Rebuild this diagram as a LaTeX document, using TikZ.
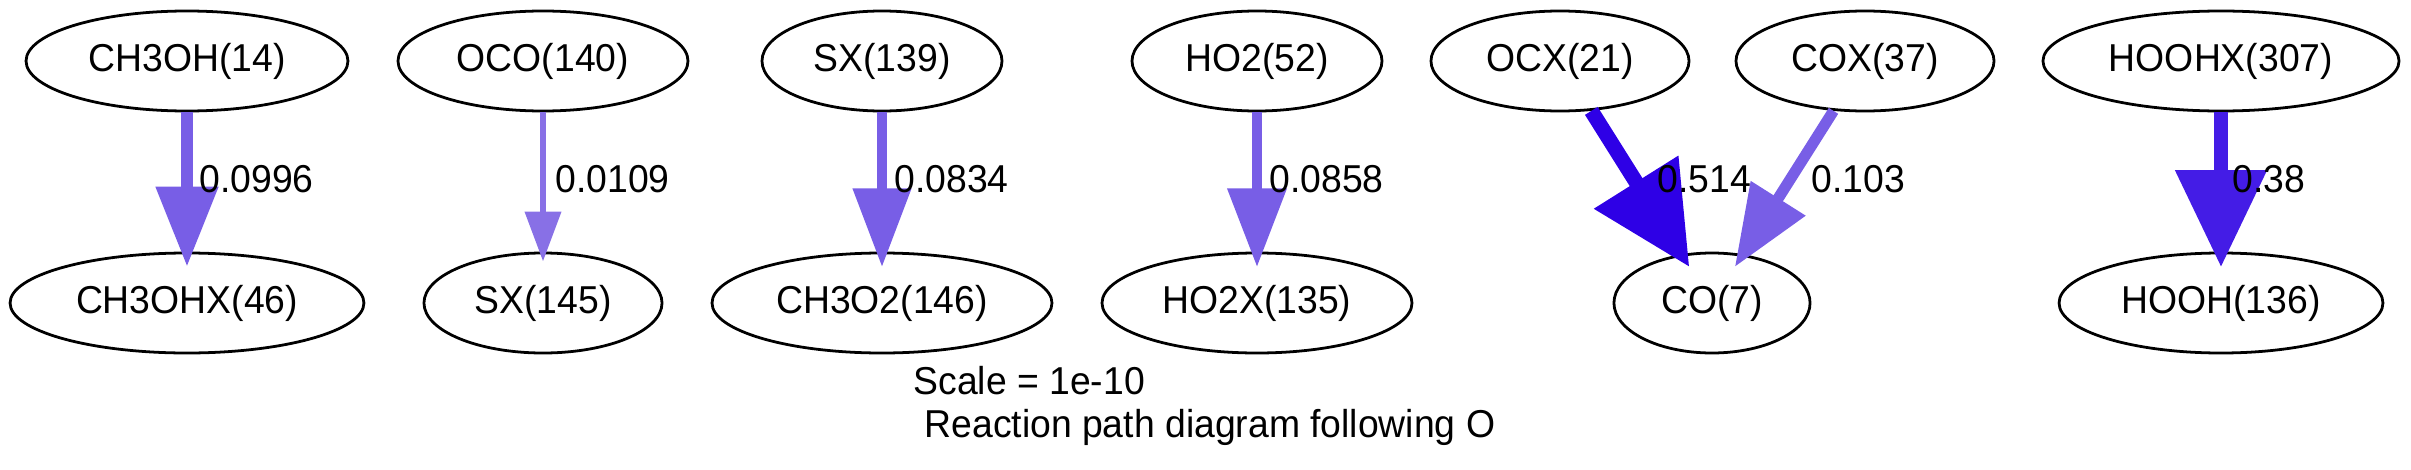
\documentclass[tikz,border=0pt]{standalone}
\usepackage{fontspec}
\setmainfont{Liberation Sans}[FakeStretch=0.96]
\usepackage{tikz}
\usetikzlibrary{shapes.geometric, arrows.meta}

\definecolor{fluxlo}{RGB}{136,112,230}
\definecolor{fluxmid}{RGB}{120,94,230}
\definecolor{fluxhi}{RGB}{68,28,230}
\definecolor{fluxtop}{RGB}{46,0,230}

\begin{document}
\begin{tikzpicture}[
  x=0.36pt, y=-0.36pt,
  every node/.style={font=\fontsize{14pt}{16pt}\selectfont},
  species/.style={draw, ellipse, line width=1pt, inner sep=0pt, minimum height=36pt, minimum width=#1},
  flux/.style n args={5}{draw=#1, line width=#2, shorten >=-#5,
    -{Triangle[length=#3, width=#4]}, color=#1},
  rate/.style={anchor=base west, inner sep=0pt}
]
\useasboundingbox (0,0) rectangle (2411,469);

% top row
\node[species=115.9pt] (ch3oh) at (187,61) {CH3OH(14)};
\node[species=104.4pt] (oco) at (543,61) {OCO(140)};
\node[species=86.4pt] (sxa) at (882,61) {SX(139)};
\node[species=90pt] (hotwo) at (1257,61) {HO2(52)};
\node[species=92.9pt] (ocx) at (1560,61) {OCX(21)};
\node[species=92.9pt] (cox) at (1865,61) {COX(37)};
\node[species=128.2pt] (hoohx) at (2221,61) {HOOHX(307)};

% bottom row
\node[species=127.4pt] (ch3ohx) at (187,303) {CH3OHX(46)};
\node[species=85.7pt] (sxb) at (543,303) {SX(145)};
\node[species=122.4pt] (ch3otwo) at (882,303) {CH3O2(146)};
\node[species=111.6pt] (hotwox) at (1257,303) {HO2X(135)};
\node[species=70.6pt] (co) at (1712,303) {CO(7)};
\node[species=116.6pt] (hooh) at (2221,303) {HOOH(136)};

% fluxes
\draw[flux={fluxmid}{4.2pt}{28.8pt}{21.6pt}{5.4pt}] (ch3oh) -- (ch3ohx);
\draw[flux={fluxlo}{2.5pt}{18pt}{12.6pt}{3.6pt}] (oco) -- (sxb);
\draw[flux={fluxmid}{3.9pt}{28.4pt}{20.2pt}{5.6pt}] (sxa) -- (ch3otwo);
\draw[flux={fluxmid}{3.9pt}{28.4pt}{20.5pt}{5.6pt}] (hotwo) -- (hotwox);
\draw[flux={fluxtop}{5.4pt}{36pt}{34.5pt}{5.4pt}] (ocx) -- (co);
\draw[flux={fluxmid}{4pt}{29.2pt}{22.3pt}{5.4pt}] (cox) -- (co);
\draw[flux={fluxhi}{5.3pt}{34.9pt}{31.7pt}{5.6pt}] (hoohx) -- (hooh);

% flux labels
\node[rate] (r1) at (199,192) {0.0996};
\node[rate] (r2) at (555,192) {0.0109};
\node[rate] (r3) at (894,192) {0.0834};
\node[rate] (r4) at (1269,192) {0.0858};
\node[rate] (r5) at (1657,192) {0.514};
\node[rate] (r6) at (1811,192) {0.103};
\node[rate] (r7) at (2232,192) {0.38};

% graph label
\node[rate] (scale) at (913,394) {Scale = 1e-10};
\node[rate] (title) at (924,437) {Reaction path diagram following O};
\end{tikzpicture}
\end{document}
